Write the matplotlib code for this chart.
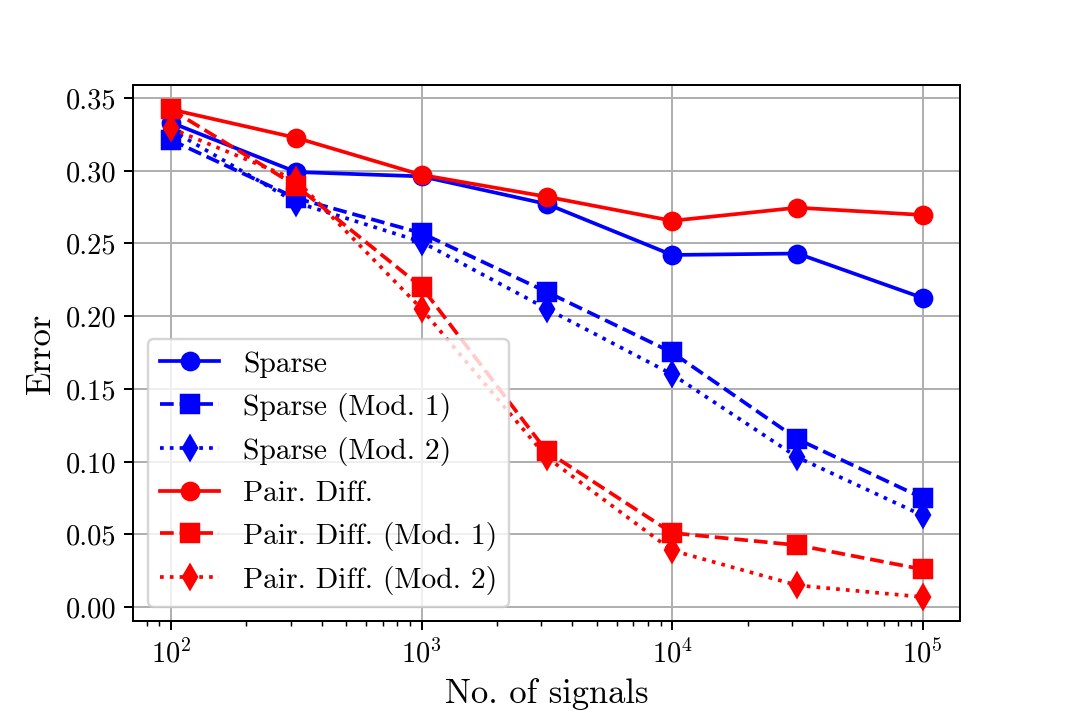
import matplotlib
matplotlib.use("Agg")
import matplotlib.pyplot as plt

plt.rcParams['font.family'] = 'serif'
plt.rcParams['font.serif'] = ['cmr10']
plt.rcParams['mathtext.fontset'] = 'cm'
plt.rcParams['axes.formatter.use_mathtext'] = True

n_signals = [100, 316, 1000, 3162, 10000, 31623, 100000]

sparse = [0.333, 0.299, 0.296, 0.277, 0.242, 0.243, 0.2125]
sparse_mod1 = [0.321, 0.281, 0.257, 0.2166, 0.175, 0.1155, 0.075]
sparse_mod2 = [0.328, 0.278, 0.251, 0.205, 0.160, 0.103, 0.063]
pair_diff = [0.342, 0.3225, 0.297, 0.282, 0.2655, 0.2745, 0.2695]
pair_diff_mod1 = [0.342, 0.2895, 0.220, 0.107, 0.051, 0.0426, 0.026]
pair_diff_mod2 = [0.329, 0.2935, 0.205, 0.103, 0.039, 0.015, 0.007]

labels = ["Sparse", "Sparse (Mod. 1)", "Sparse (Mod. 2)",
          "Pair. Diff.", "Pair. Diff. (Mod. 1)", "Pair. Diff. (Mod. 2)"]

fig = plt.figure(figsize=(6, 4), dpi=177.83)
ax = fig.add_subplot(111)
fig.subplots_adjust(left=0.125, right=0.9, top=0.88, bottom=0.126)

ms = 7
ax.plot(n_signals, sparse, color='blue', linestyle='-', marker='o', markersize=ms, label=labels[0])
ax.plot(n_signals, sparse_mod1, color='blue', linestyle='--', marker='s', markersize=ms, label=labels[1])
ax.plot(n_signals, sparse_mod2, color='blue', linestyle=':', marker='d', markersize=ms, label=labels[2])
ax.plot(n_signals, pair_diff, color='red', linestyle='-', marker='o', markersize=ms, label=labels[3])
ax.plot(n_signals, pair_diff_mod1, color='red', linestyle='--', marker='s', markersize=ms, label=labels[4])
ax.plot(n_signals, pair_diff_mod2, color='red', linestyle=':', marker='d', markersize=ms, label=labels[5])

ax.set_xscale('log')
ax.grid(True, which='major', color='#b0b0b0')
ax.set_xlabel('No. of signals', fontsize=14)
ax.set_ylabel('Error', fontsize=14)
ax.yaxis.set_label_coords(-0.093, 0.5)
ax.set_yticks([0.0, 0.05, 0.10, 0.15, 0.20, 0.25, 0.30, 0.35])
ax.set_yticklabels(['0.00', '0.05', '0.10', '0.15', '0.20', '0.25', '0.30', '0.35'])
ax.tick_params(axis='both', which='major', labelsize=11.5)
ax.legend(loc='lower left', fontsize=12)

fig.savefig('out.png', dpi=177.83)
